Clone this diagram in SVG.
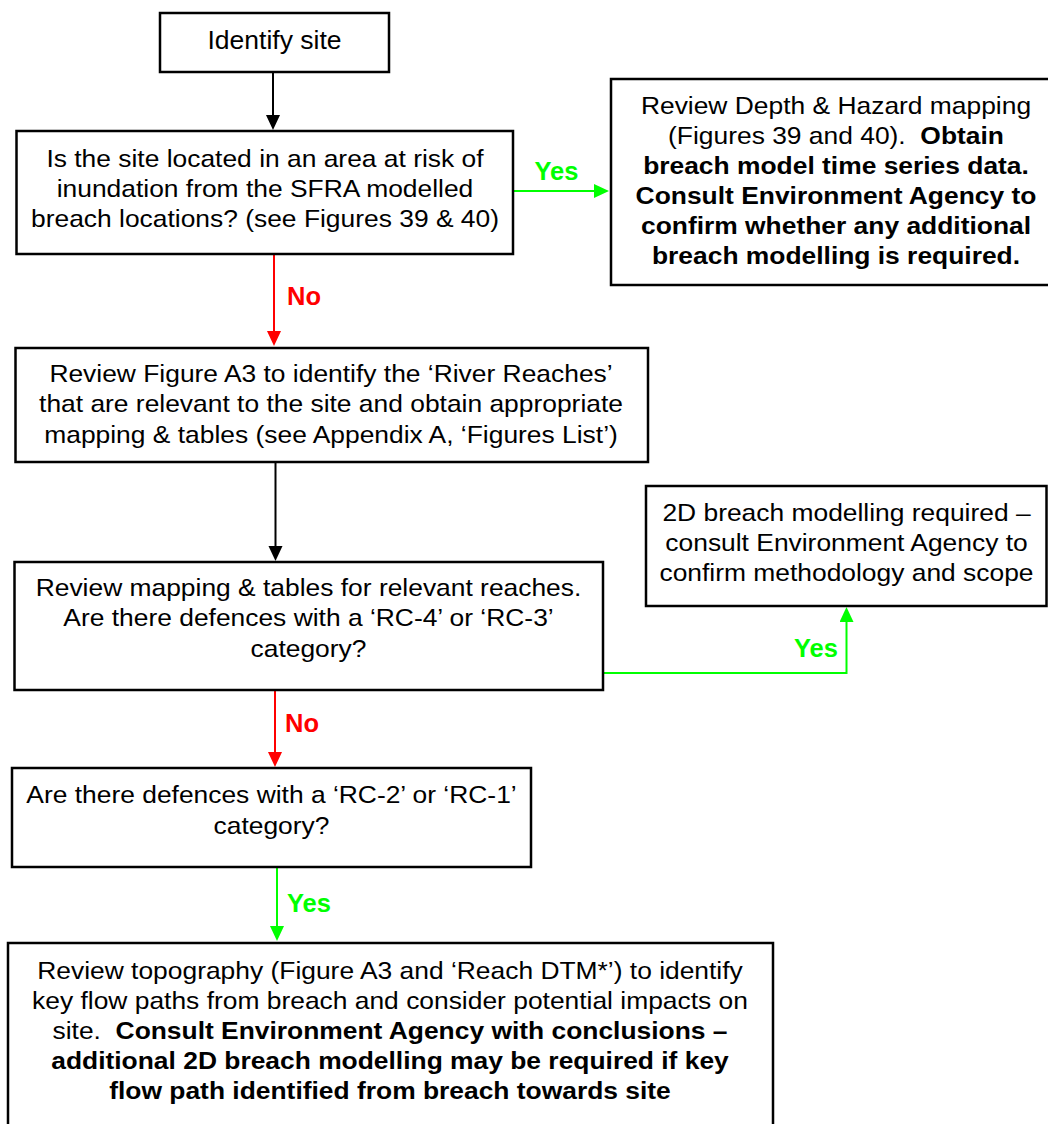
<svg xmlns="http://www.w3.org/2000/svg" width="1048" height="1124" viewBox="0 0 1048 1124">
<style>
.box{fill:#fff;stroke:#000;stroke-width:2.5}
.t{font-family:"Liberation Sans",Arial,sans-serif;font-size:24px;fill:#000;text-anchor:middle}
.b{font-weight:bold}
.lbl{font-family:"Liberation Sans",Arial,sans-serif;font-size:25.5px;font-weight:bold}
.yes{fill:#00ff00}
.no{fill:#ff0000}
.c{fill:none;stroke-width:2}
</style>
<defs>
<marker id="ak" markerUnits="userSpaceOnUse" markerWidth="16" markerHeight="15" refX="7" refY="7" orient="auto"><path d="M0,0 L15,7 L0,14 z" fill="#000"/></marker>
<marker id="ar" markerUnits="userSpaceOnUse" markerWidth="16" markerHeight="15" refX="7" refY="7" orient="auto"><path d="M0,0 L15,7 L0,14 z" fill="#ff0000"/></marker>
<marker id="ag" markerUnits="userSpaceOnUse" markerWidth="16" markerHeight="15" refX="7" refY="7" orient="auto"><path d="M0,0 L15,7 L0,14 z" fill="#00ff00"/></marker>
</defs>
<rect width="1048" height="1124" fill="#fff"/>

<g id="connectors">
<line class="c" x1="273" y1="73" x2="273" y2="122" stroke="#000" marker-end="url(#ak)"/>
<line class="c" x1="514" y1="191" x2="601" y2="191" stroke="#00ff00" marker-end="url(#ag)"/>
<line class="c" x1="274" y1="255" x2="274" y2="338" stroke="#ff0000" marker-end="url(#ar)"/>
<line class="c" x1="275.5" y1="463" x2="275.5" y2="553" stroke="#000" marker-end="url(#ak)"/>
<polyline class="c" points="604,673 846.5,673 846.5,615" stroke="#00ff00" marker-end="url(#ag)"/>
<line class="c" x1="275" y1="691" x2="275" y2="759" stroke="#ff0000" marker-end="url(#ar)"/>
<line class="c" x1="277" y1="868" x2="277" y2="933" stroke="#00ff00" marker-end="url(#ag)"/>
<text class="lbl yes" x="556.5" y="180" text-anchor="middle">Yes</text>
<text class="lbl no" x="287" y="305">No</text>
<text class="lbl yes" x="816" y="657" text-anchor="middle">Yes</text>
<text class="lbl no" x="285" y="732">No</text>
<text class="lbl yes" x="287" y="912">Yes</text>
</g>

<g id="n1">
<rect class="box" x="160" y="13" width="229" height="59"/>
<text class="t" x="274.5" y="49" style="font-size:26.5px">Identify site</text>
</g>

<g id="n2">
<rect class="box" x="16.5" y="131" width="496.5" height="123"/>
<g transform="translate(265 0) scale(1.1 1)">
<text class="t" x="0" y="167">Is the site located in an area at risk of</text>
<text class="t" x="0" y="197">inundation from the SFRA modelled</text>
<text class="t" x="0" y="227">breach locations? (see Figures 39 &amp; 40)</text>
</g>
</g>

<g id="n3">
<rect class="box" x="611" y="79" width="450" height="206"/>
<g transform="translate(836 0) scale(1.1 1)">
<text class="t" x="0" y="114.5">Review Depth &amp; Hazard mapping</text>
<text class="t" x="0" y="144.5" xml:space="preserve">(Figures 39 and 40).  <tspan class="b">Obtain</tspan></text>
<text class="t b" x="0" y="174.5">breach model time series data.</text>
<text class="t b" x="0" y="204.5">Consult Environment Agency to</text>
<text class="t b" x="0" y="234.5">confirm whether any additional</text>
<text class="t b" x="0" y="264.5">breach modelling is required.</text>
</g>
</g>

<g id="n4">
<rect class="box" x="15.5" y="348" width="632.5" height="114"/>
<g transform="translate(331 0) scale(1.1 1)">
<text class="t" x="0" y="382">Review Figure A3 to identify the ‘River Reaches’</text>
<text class="t" x="0" y="412.5">that are relevant to the site and obtain appropriate</text>
<text class="t" x="0" y="443">mapping &amp; tables (see Appendix A, ‘Figures List’)</text>
</g>
</g>

<g id="n5">
<rect class="box" x="14.5" y="562" width="588.5" height="128"/>
<g transform="translate(308.5 0) scale(1.1 1)">
<text class="t" x="0" y="596">Review mapping &amp; tables for relevant reaches.</text>
<text class="t" x="0" y="626.5">Are there defences with a ‘RC-4’ or ‘RC-3’</text>
<text class="t" x="0" y="657">category?</text>
</g>
</g>

<g id="n6">
<rect class="box" x="646" y="486" width="400.5" height="120"/>
<g transform="translate(846.5 0) scale(1.1 1)">
<text class="t" x="0" y="521.5">2D breach modelling required –</text>
<text class="t" x="0" y="551.5">consult Environment Agency to</text>
<text class="t" x="0" y="581.5">confirm methodology and scope</text>
</g>
</g>

<g id="n7">
<rect class="box" x="12" y="768" width="519" height="99"/>
<g transform="translate(271.5 0) scale(1.1 1)">
<text class="t" x="0" y="803">Are there defences with a ‘RC-2’ or ‘RC-1’</text>
<text class="t" x="0" y="834">category?</text>
</g>
</g>

<g id="n8">
<rect class="box" x="8" y="943" width="765" height="200"/>
<g transform="translate(390 0) scale(1.1 1)">
<text class="t" x="0" y="979">Review topography (Figure A3 and ‘Reach DTM*’) to identify</text>
<text class="t" x="0" y="1009">key flow paths from breach and consider potential impacts on</text>
<text class="t" x="0" y="1039" xml:space="preserve">site.  <tspan class="b">Consult Environment Agency with conclusions –</tspan></text>
<text class="t b" x="0" y="1069">additional 2D breach modelling may be required if key</text>
<text class="t b" x="0" y="1099">flow path identified from breach towards site</text>
</g>
</g>
</svg>
